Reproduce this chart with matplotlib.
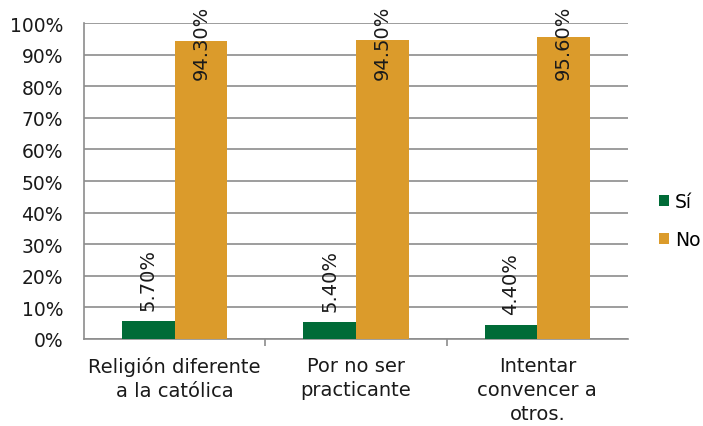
import matplotlib
matplotlib.use("Agg")
import matplotlib.pyplot as plt
import numpy as np

categories = ["Religión diferente\na la católica", "Por no ser\npracticante", "Intentar\nconvencer a\notros."]
si_values = [5.7, 5.4, 4.4]
no_values = [94.3, 94.5, 95.6]
series_names = ["Sí", "No"]

plt.rcParams['font.family'] = ['DejaVu Sans']
fig = plt.figure(figsize=(7.03, 4.27), dpi=100)
ax = fig.add_axes([84/703, 1-340/427, (628-84)/703, (340-24)/427])

x = np.arange(len(categories))
w = 0.29
green = "#006b37"
orange = "#db9b2b"
b1 = ax.bar(x - w/2, si_values, w, color=green, label=series_names[0], zorder=3)
b2 = ax.bar(x + w/2, no_values, w, color=orange, label=series_names[1], zorder=3)

for r, v in zip(b1, si_values):
    ax.text(r.get_x() + r.get_width()/2, v + 3.5, f"{v:.2f}%", rotation=90,
            ha="center", va="bottom", fontsize=14, color="#1a1a1a", zorder=4)
for r, v in zip(b2, no_values):
    ax.text(r.get_x() + r.get_width()/2, 105.8, f"{v:.2f}%", rotation=90,
            ha="center", va="top", fontsize=14, color="#1a1a1a", zorder=4, clip_on=False)

ax.set_xlim(-0.5, 2.5)
ax.set_ylim(0, 100)
ax.set_yticks(np.arange(0, 101, 10))
ax.set_yticklabels([f"{t}%" for t in range(0, 101, 10)], fontsize=13.5, color="#1a1a1a")
ax.yaxis.grid(True, color="#8c8c8c", linewidth=1.2, zorder=0)
ax.tick_params(axis='y', length=0, pad=15)
ax.set_xticks(x)
ax.set_xticklabels(categories, fontsize=14, linespacing=1.35, color="#1a1a1a")
ax.set_xticks([0.5, 1.5], minor=True)
ax.tick_params(axis='x', which='major', length=0, pad=12)
ax.tick_params(axis='x', which='minor', length=5, color="#8c8c8c", width=1.2)
for s in ['top', 'right']:
    ax.spines[s].set_visible(False)
for s in ['left', 'bottom']:
    ax.spines[s].set_color("#8c8c8c")
    ax.spines[s].set_linewidth(1.2)

ax.legend(loc="center left", bbox_to_anchor=(1.033, 0.375), frameon=False, fontsize=13.5,
          handlelength=0.55, handleheight=0.55, handletextpad=0.3, labelspacing=1.0,
          borderaxespad=0.3)

fig.savefig("out.png", dpi=100)
